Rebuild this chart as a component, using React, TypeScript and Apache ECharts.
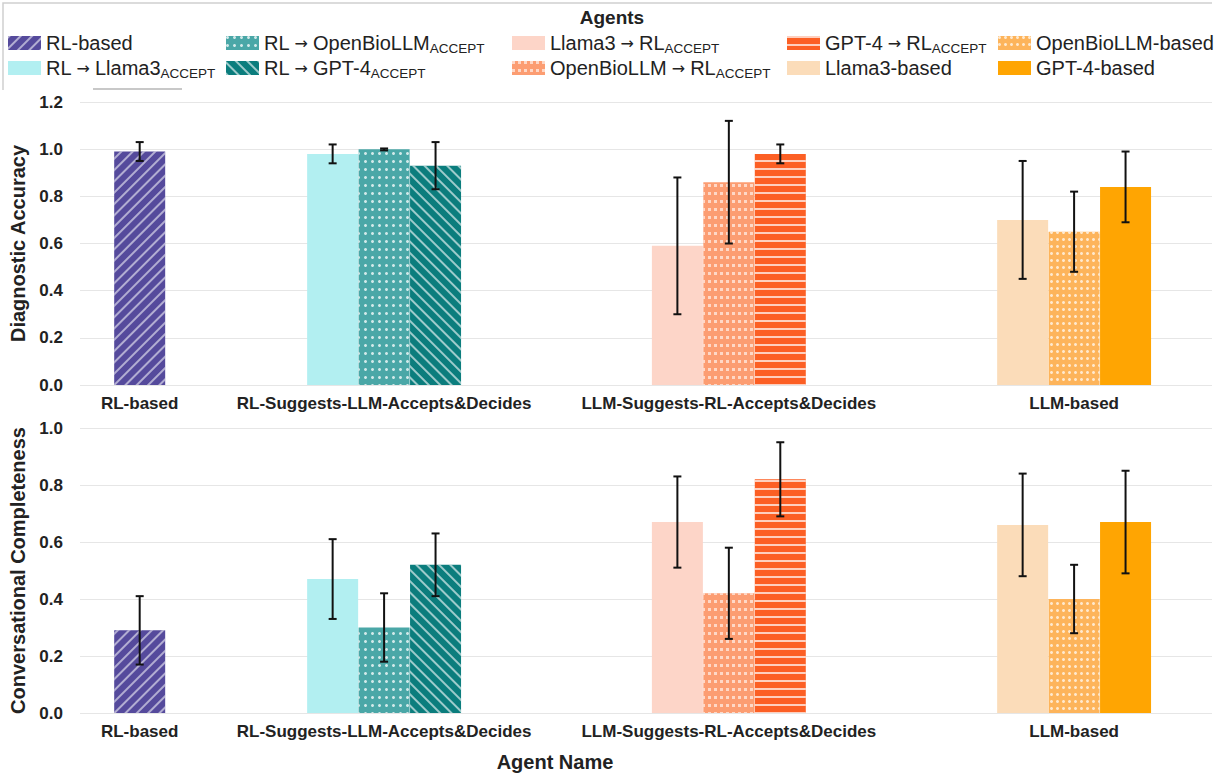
import React, { useEffect, useRef } from 'react';
import * as echarts from 'echarts';

// ---------------- data ----------------
const categories = [
  'RL-based',
  'RL-Suggests-LLM-Accepts&Decides',
  'LLM-Suggests-RL-Accepts&Decides',
  'LLM-based',
];
// position of each category group on the (value) x axis, in bar-width units
const groupPositions = [1.16, 5.91, 12.61, 19.32];

const agentMain = [
  'RL-based',
  'RL → Llama3',
  'RL → OpenBioLLM',
  'RL → GPT-4',
  'Llama3 → RL',
  'OpenBioLLM → RL',
  'GPT-4 → RL',
  'Llama3-based',
  'OpenBioLLM-based',
  'GPT-4-based',
];
const agentSub = ['', 'ACCEPT', 'ACCEPT', 'ACCEPT', 'ACCEPT', 'ACCEPT', 'ACCEPT', '', '', ''];
const agentGroup = [0, 1, 1, 1, 2, 2, 2, 3, 3, 3];
const agentSlot = [0, -1, 0, 1, -1, 0, 1, -1, 0, 1];

const accuracyMean = [0.99, 0.98, 1.0, 0.93, 0.59, 0.86, 0.98, 0.7, 0.65, 0.84];
const accuracyLow = [0.95, 0.94, 0.995, 0.83, 0.3, 0.6, 0.94, 0.45, 0.48, 0.69];
const accuracyHigh = [1.03, 1.02, 1.003, 1.03, 0.88, 1.12, 1.02, 0.95, 0.82, 0.99];

const completenessMean = [0.29, 0.47, 0.3, 0.52, 0.67, 0.42, 0.82, 0.66, 0.4, 0.67];
const completenessLow = [0.17, 0.33, 0.18, 0.41, 0.51, 0.26, 0.69, 0.48, 0.28, 0.49];
const completenessHigh = [0.41, 0.61, 0.42, 0.63, 0.83, 0.58, 0.95, 0.84, 0.52, 0.85];

const accuracyTicks = [0, 0.2, 0.4, 0.6, 0.8, 1.0, 1.2];
const completenessTicks = [0, 0.2, 0.4, 0.6, 0.8, 1.0];

// ---------------- styles ----------------
const colors = [
  '#554a9c',
  '#b2eff1',
  '#4aa7a7',
  '#0b7d7d',
  '#fdd5c8',
  '#fc9d72',
  '#fc5f24',
  '#fbdcb9',
  '#fdb45b',
  '#ffa502',
];

const decals: any[] = [
  { symbol: 'rect', dashArrayX: [1, 0], dashArrayY: [1.4, 5.6], rotation: -Math.PI / 4, color: 'rgba(255,255,255,0.55)' },
  undefined,
  { symbol: 'circle', dashArrayX: [2.2, 3.6], dashArrayY: [2.2, 4.2], symbolSize: 1, color: 'rgba(255,255,255,0.75)' },
  { symbol: 'rect', dashArrayX: [1, 0], dashArrayY: [1.4, 5.6], rotation: Math.PI / 4, color: 'rgba(255,255,255,0.6)' },
  undefined,
  { symbol: 'rect', dashArrayX: [3, 3], dashArrayY: [2.4, 4.6], symbolSize: 1, color: 'rgba(255,255,255,0.6)' },
  { symbol: 'rect', dashArrayX: [1, 0], dashArrayY: [1.1, 5.6], color: 'rgba(255,255,255,0.7)' },
  undefined,
  { symbol: 'circle', dashArrayX: [3, 3], dashArrayY: [3, 3.6], symbolSize: 1, color: 'rgba(255,255,255,0.7)' },
  undefined,
];

const legendColumnX = [8, 226, 512, 787, 998];
const legendRowTop = [33, 58];

const AXIS_FONT = '"Liberation Sans", Arial, sans-serif';
const TEXT_COLOR = '#222';

function seriesName(i: number) {
  return agentSub[i] ? `${agentMain[i]} ${agentSub[i]}` : agentMain[i];
}

function xPos(i: number) {
  return groupPositions[agentGroup[i]] + agentSlot[i];
}

function legendRich(i: number) {
  const parts = agentMain[i].split(' → ');
  const main = parts.map((p) => `{m|${p}}`).join('{a|→}');
  return agentSub[i] ? `${main}{s|${agentSub[i]}}` : main;
}

function makeBars(means: number[], g: number) {
  return agentMain.map((_, i) => ({
    type: 'bar',
    name: seriesName(i),
    xAxisIndex: g,
    yAxisIndex: g,
    data: [[xPos(i), means[i]]],
    barWidth: 51,
    barGap: '-100%',
    itemStyle: decals[i] ? { color: colors[i], decal: decals[i] } : { color: colors[i] },
    emphasis: { disabled: true },
    silent: true,
  }));
}

function makeErrors(low: number[], high: number[], g: number) {
  return {
    type: 'custom',
    xAxisIndex: g,
    yAxisIndex: g,
    z: 10,
    silent: true,
    data: agentMain.map((_, i) => [xPos(i), low[i], high[i]]),
    encode: { x: 0, y: [1, 2] },
    renderItem: (params: any, api: any) => {
      const x = api.value(0);
      const lo = api.coord([x, api.value(1)]);
      const hi = api.coord([x, api.value(2)]);
      const w = 4;
      const st = { stroke: '#111', lineWidth: 2 };
      return {
        type: 'group',
        children: [
          { type: 'line', shape: { x1: lo[0], y1: lo[1], x2: hi[0], y2: hi[1] }, style: st },
          { type: 'line', shape: { x1: lo[0] - w, y1: lo[1], x2: lo[0] + w, y2: lo[1] }, style: st },
          { type: 'line', shape: { x1: hi[0] - w, y1: hi[1], x2: hi[0] + w, y2: hi[1] }, style: st },
        ],
      };
    },
  };
}

function makeXAxis(g: number) {
  return {
    type: 'value',
    gridIndex: g,
    min: 0,
    max: 22,
    axisLine: { show: false },
    axisTick: { show: false },
    splitLine: { show: false },
    axisLabel: {
      customValues: groupPositions,
      formatter: (v: number) => {
        const idx = groupPositions.findIndex((p) => Math.abs(p - v) < 1e-6);
        return idx >= 0 ? categories[idx] : '';
      },
      fontFamily: AXIS_FONT,
      fontWeight: 'bold',
      fontSize: 17,
      color: TEXT_COLOR,
      margin: 10,
    },
  };
}

function makeYAxis(g: number, ticks: number[], name: string) {
  return {
    type: 'value',
    gridIndex: g,
    min: ticks[0],
    max: ticks[ticks.length - 1],
    interval: ticks[1] - ticks[0],
    name,
    nameLocation: 'middle',
    nameGap: 50,
    nameTextStyle: { fontFamily: AXIS_FONT, fontWeight: 'bold', fontSize: 20, color: TEXT_COLOR },
    axisLine: { show: false },
    axisTick: { show: false },
    splitLine: { show: true, lineStyle: { color: '#e6e6e6', width: 1 } },
    axisLabel: {
      formatter: (v: number) => v.toFixed(1),
      fontFamily: AXIS_FONT,
      fontWeight: 'bold',
      fontSize: 17,
      color: TEXT_COLOR,
      margin: 17,
    },
  };
}

function makeLegends() {
  return agentMain.map((_, i) => ({
    data: [seriesName(i)],
    left: legendColumnX[Math.floor(i / 2)],
    top: legendRowTop[i % 2],
    padding: 0,
    itemWidth: 33,
    itemHeight: 14,
    icon: 'rect',
    selectedMode: false,
    formatter: () => legendRich(i),
    textStyle: {
      color: TEXT_COLOR,
      rich: {
        m: { fontFamily: AXIS_FONT, fontSize: 20, color: TEXT_COLOR, lineHeight: 24 },
        a: { fontFamily: '"DejaVu Sans", sans-serif', fontSize: 16, color: TEXT_COLOR, lineHeight: 24, padding: [0, 5, 0, 5] },
        s: { fontFamily: AXIS_FONT, fontSize: 13.5, color: TEXT_COLOR, lineHeight: 12, verticalAlign: 'bottom' },
      },
    },
  }));
}

export default function App() {
  const ref = useRef<HTMLDivElement>(null);
  useEffect(() => {
    document.body.style.margin = '0';
    if (!ref.current) return;
    const chart = echarts.init(ref.current, undefined, { renderer: 'svg' });
    chart.setOption({
      animation: false,
      backgroundColor: '#ffffff',
      grid: [
        { left: 80, right: 13, top: 102, height: 283 },
        { left: 80, right: 13, top: 428, height: 285 },
      ],
      xAxis: [makeXAxis(0), makeXAxis(1)],
      yAxis: [
        makeYAxis(0, accuracyTicks, 'Diagnostic Accuracy'),
        makeYAxis(1, completenessTicks, 'Conversational Completeness'),
      ],
      legend: makeLegends(),
      series: [
        ...makeBars(accuracyMean, 0),
        makeErrors(accuracyLow, accuracyHigh, 0),
        ...makeBars(completenessMean, 1),
        makeErrors(completenessLow, completenessHigh, 1),
      ],
      graphic: [
        {
          type: 'polyline',
          silent: true,
          shape: { points: [[3, 90], [3, 3], [1212, 3]] },
          style: { stroke: '#cfcfcf', lineWidth: 1.5, fill: 'none' },
        },
        {
          type: 'line',
          silent: true,
          shape: { x1: 93, y1: 89, x2: 182, y2: 89 },
          style: { stroke: '#c8c8c8', lineWidth: 2 },
        },
        {
          type: 'text',
          silent: true,
          x: 612,
          y: 17,
          style: {
            text: 'Agents',
            fontFamily: AXIS_FONT,
            fontWeight: 'bold',
            fontSize: 19,
            fill: TEXT_COLOR,
            align: 'center',
            verticalAlign: 'middle',
          },
        },
        {
          type: 'text',
          silent: true,
          x: 555,
          y: 762,
          style: {
            text: 'Agent Name',
            fontFamily: AXIS_FONT,
            fontWeight: 'bold',
            fontSize: 20,
            fill: TEXT_COLOR,
            align: 'center',
            verticalAlign: 'middle',
          },
        },
      ],
    });
    return () => chart.dispose();
  }, []);
  return (
    <div
      ref={ref}
      style={{ position: 'absolute', left: 0, top: 0, width: 1225, height: 776, background: '#fff' }}
    />
  );
}
